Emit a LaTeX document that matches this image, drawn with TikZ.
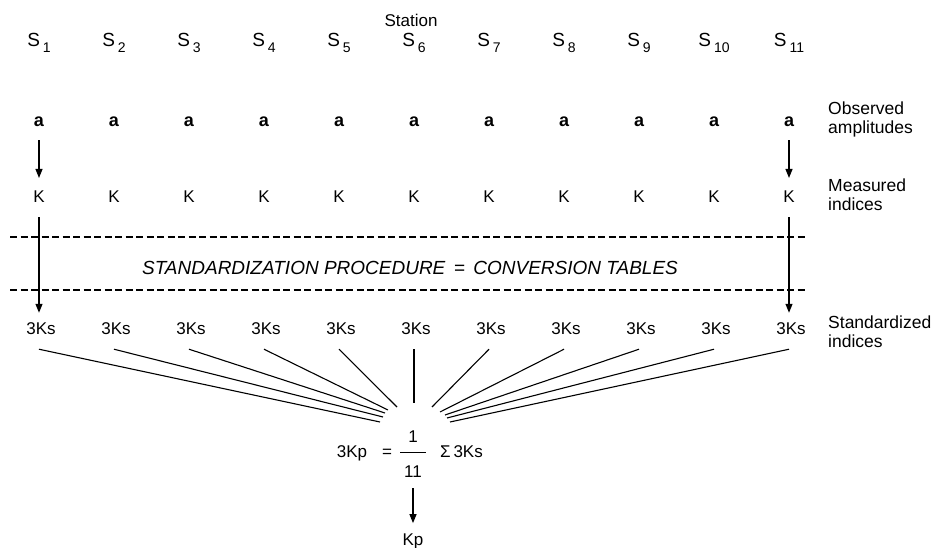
\documentclass[tikz,border=0pt]{standalone}
\usepackage{fontspec}
\setmainfont{Liberation Sans}
\usetikzlibrary{arrows.meta}
\tikzset{
  lbl/.style={font=\fontsize{17}{19}\selectfont, inner sep=1pt},
  stn/.style={font=\fontsize{19}{21}\selectfont, inner sep=1pt, anchor=base},
  amp/.style={font=\fontsize{18}{20}\selectfont\bfseries, inner sep=1pt},
  side/.style={font=\fontsize{17.5}{19}\selectfont, align=left, anchor=west, inner sep=0pt},
  arr/.style={line width=1.2pt, -{Triangle[length=9pt,width=7pt]}},
  fan/.style={line width=1.1pt},
  band/.style={line width=2pt, dash pattern=on 7pt off 3.5pt}
}
\begin{document}
\begin{tikzpicture}[x=1pt,y=-1pt]
\useasboundingbox (0,0) rectangle (941,548);
\pgfmathsetmacro\colstep{75}
\node[lbl, anchor=base] (station) at (411,27) {Station};
\foreach \n in {1,...,11} {
  \pgfmathsetmacro\xc{39+\colstep*(\n-1)}
  \node[stn] (s\n) at (\xc,47) {S\kern3pt\raisebox{-6pt}{\fontsize{14}{14}\selectfont\n}};
  \node[amp] (a\n) at (\xc,122) {a};
  \node[lbl] (k\n) at (\xc,197) {K};
  \node[lbl] (ks\n) at (\xc+2,329) {3Ks};
}
\node[side] (obs) at (828,119) {Observed\\amplitudes};
\node[side] (meas) at (828,195) {Measured\\indices};
\node[side] (std) at (828,332) {Standardized\\indices};
\draw[band] (10,237) -- (808,237);
\draw[band] (10,290) -- (808,290);
\node[font=\fontsize{19}{21}\selectfont\itshape, inner sep=0pt] (proc) at (410,268) {STANDARDIZATION PROCEDURE \,=\, CONVERSION TABLES};
\foreach \n in {1,11} {
  \draw[arr, shorten <=12pt, shorten >=12pt] (a\n) -- (k\n);
  \draw[arr, shorten <=13pt, shorten >=9pt] (k\n) -- (k\n |- ks\n.north);
}
\foreach \n/\ex/\ey in {1/380/422,2/383/417,3/385/413,4/388/410,5/397/407,6/414/403,7/432/407,8/440/412,9/445/415,10/447/418,11/450/422} {
  \coordinate (f\n) at (\ex,\ey);
  \draw[fan] ([xshift=-2pt,yshift=-13pt]ks\n.south) -- (f\n);
}
\node[lbl, anchor=base] (kp3) at (352,457) {3Kp};
\node[lbl, anchor=base] (eq) at (387,457) {=};
\node[lbl, anchor=base] (num) at (413,442) {1};
\node[lbl, anchor=base] (den) at (413,477) {11};
\draw[line width=1pt] (400,452) -- (426,452);
\node[lbl, anchor=base west] (sum) at (439,457) {Σ\,3Ks};
\node[lbl, anchor=base] (kp) at (413,545) {Kp};
\draw[arr, shorten <=10pt, shorten >=9pt] (den) -- (kp);
\end{tikzpicture}
\end{document}
